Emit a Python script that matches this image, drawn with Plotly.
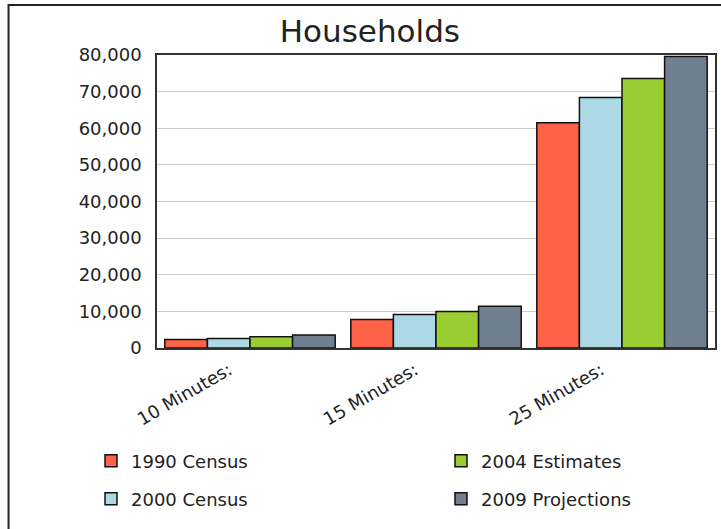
import plotly.graph_objects as go

categories = ["10 Minutes:", "15 Minutes:", "25 Minutes:"]
census_1990 = [2300, 7800, 61500]
census_2000 = [2600, 9150, 68400]
estimates_2004 = [3100, 10000, 73600]
projections_2009 = [3550, 11400, 79600]

series_names = ["1990 Census", "2000 Census", "2004 Estimates", "2009 Projections"]
series_values = [census_1990, census_2000, estimates_2004, projections_2009]
series_colors = ["#FF6347", "#ADD8E6", "#9ACD32", "#708090"]
series_legend = ["legend", "legend2", "legend3", "legend4"]

y_ticks = [0, 10000, 20000, 30000, 40000, 50000, 60000, 70000, 80000]
y_tick_labels = ["0", "10,000", "20,000", "30,000", "40,000", "50,000", "60,000", "70,000", "80,000"]

FONT = "DejaVu Sans"
TXT = "#222222"

fig = go.Figure()
for name, vals, col, lg in zip(series_names, series_values, series_colors, series_legend):
    fig.add_trace(go.Bar(
        x=categories, y=vals, name=name, legend=lg,
        marker=dict(color=col, line=dict(color="#111111", width=1.5)),
    ))

W, H = 721, 529
L, R, T, B = 157, 4, 55, 181

def legend_box(px, py):
    return dict(orientation="h", xref="container", yref="container",
                x=px / W, y=1 - py / H, xanchor="left", yanchor="middle",
                font=dict(family=FONT, size=18, color=TXT), bgcolor="rgba(0,0,0,0)")

fig.update_layout(
    width=W, height=H,
    margin=dict(l=L, r=R, t=T, b=B, pad=0),
    paper_bgcolor="white", plot_bgcolor="white",
    barmode="group", bargap=0.084, bargroupgap=0,
    font=dict(family=FONT, color=TXT, size=18),
    title=dict(text="Households", font=dict(family=FONT, size=31, color=TXT),
               x=0.513, xref="container", xanchor="center",
               y=1 - 31 / H, yref="container", yanchor="middle"),
    xaxis=dict(
        showgrid=False, showline=True, linecolor="#333333", linewidth=1.5, mirror=True,
        tickangle=-30, ticks="", tickfont=dict(family=FONT, size=18, color=TXT),
        ticklabelshift=-21, ticklabelstandoff=3,
    ),
    yaxis=dict(
        range=[0, 80000], tickvals=y_ticks, ticktext=y_tick_labels,
        showgrid=True, gridcolor="#CCCCCC", gridwidth=1,
        showline=True, linecolor="#333333", linewidth=1.5, mirror=True,
        ticks="", tickfont=dict(family=FONT, size=18, color=TXT),
        ticklabelstandoff=10, zeroline=False,
    ),
    legend=legend_box(91, 461),
    legend2=legend_box(91, 499),
    legend3=legend_box(441, 461),
    legend4=legend_box(441, 499),
    showlegend=True,
)

# outer frame (left and top edges visible in reference)
pw, ph = W - L - R, H - T - B
fig.add_shape(type="rect", xref="paper", yref="paper",
              x0=(8 - L) / pw, x1=(W + 20 - L) / pw,
              y0=-(H + 20 - (H - B)) / ph, y1=(H - B - 5) / ph,
              line=dict(color="#222222", width=2), fillcolor="rgba(0,0,0,0)", layer="below")

fig.write_html("out.html", config={"displayModeBar": False},
               post_script="document.body.style.margin='0';document.body.style.overflow='hidden';")
